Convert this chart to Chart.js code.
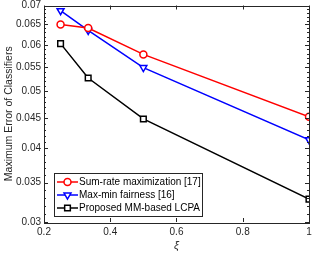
<!DOCTYPE html>
<html>
<head>
<meta charset="utf-8">
<script src="https://cdn.jsdelivr.net/npm/chart.js@4"></script>
<style>
  html, body { margin: 0; padding: 0; background: #fff; }
  #wrap { width: 316px; height: 253px; }
</style>
</head>
<body>
<div id="wrap"><canvas id="chart" width="316" height="253"></canvas></div>
<script>
// data
const xi = [0.25, 1 / 3, 0.5, 1];
const sumRate = [0.0650, 0.0641, 0.0578, 0.0453];
const maxMin = [0.0686, 0.0635, 0.0549, 0.0414];
const proposed = [0.0603, 0.0527, 0.0449, 0.0328];
const xTicks = [0.2, 0.4, 0.6, 0.8, 1];
const yTicks = [0.03, 0.035, 0.04, 0.045, 0.05, 0.055, 0.06, 0.065, 0.07];

const FONT = 'Liberation Sans, Arial, sans-serif';
Chart.defaults.font.family = FONT;
Chart.defaults.font.size = 10;
Chart.defaults.color = '#262626';

const toPts = ys => ys.map((y, i) => ({ x: xi[i], y: y }));

// MATLAB style box, inward ticks and legend
const matlabAxes = {
    id: 'matlabAxes',
    afterDraw(chart) {
        const ctx = chart.ctx;
        const a = chart.chartArea;
        const xs = chart.scales.x, ys = chart.scales.y;
        ctx.save();
        ctx.strokeStyle = '#262626';
        ctx.lineWidth = 1;
        ctx.beginPath();
        xTicks.forEach(v => {
            const px = Math.round(xs.getPixelForValue(v)) + 0.5;
            ctx.moveTo(px, a.bottom); ctx.lineTo(px, a.bottom - 4);
            ctx.moveTo(px, a.top); ctx.lineTo(px, a.top + 4);
        });
        for (let k = 30; k <= 70; k++) {
            const v = k / 1000;
            const major = k % 5 === 0;
            const len = major ? 4 : 2;
            const py = Math.round(ys.getPixelForValue(v)) + 0.5;
            ctx.moveTo(a.left, py); ctx.lineTo(a.left + len, py);
            ctx.moveTo(a.right, py); ctx.lineTo(a.right - len, py);
        }
        ctx.stroke();
        ctx.strokeRect(Math.round(a.left) + 0.5, Math.round(a.top) + 0.5,
            Math.round(a.right - a.left), Math.round(a.bottom - a.top));

        // legend box
        const lx = 54, ly = 173, lw = 148, lh = 43;
        ctx.fillStyle = '#fff';
        ctx.fillRect(lx, ly, lw, lh);
        ctx.strokeStyle = '#262626';
        ctx.strokeRect(lx + 0.5, ly + 0.5, lw, lh);
        ctx.font = '10px ' + FONT;
        ctx.textBaseline = 'middle';
        chart.data.datasets.forEach((ds, i) => {
            const cy = ly + 9 + i * 13;
            ctx.strokeStyle = ds.borderColor;
            ctx.lineWidth = 1.5;
            ctx.beginPath();
            ctx.moveTo(lx + 3, cy); ctx.lineTo(lx + 24, cy);
            ctx.stroke();
            ctx.fillStyle = '#fff';
            Chart.helpers.drawPoint(ctx, {
                pointStyle: ds.pointStyle,
                radius: ds.pointRadius,
                rotation: ds.pointRotation || 0,
                borderWidth: 1.5
            }, lx + 13.5, cy);
            ctx.fillStyle = '#000';
            ctx.fillText(ds.label, lx + 25, cy + 0.5);
        });
        ctx.restore();
    }
};

new Chart(document.getElementById('chart'), {
    type: 'line',
    data: {
        datasets: [
            {
                label: 'Sum-rate maximization [17]',
                data: toPts(sumRate),
                borderColor: '#ff0000',
                pointBackgroundColor: '#fff',
                pointStyle: 'circle',
                pointRadius: 3.5,
                borderWidth: 1.5
            },
            {
                label: 'Max-min fairness [16]',
                data: toPts(maxMin),
                borderColor: '#0000ff',
                pointBackgroundColor: '#fff',
                pointStyle: 'triangle',
                pointRotation: 180,
                pointRadius: 4,
                borderWidth: 1.5
            },
            {
                label: 'Proposed MM-based LCPA',
                data: toPts(proposed),
                borderColor: '#000000',
                pointBackgroundColor: '#fff',
                pointStyle: 'rect',
                pointRadius: 4,
                borderWidth: 1.5
            }
        ]
    },
    options: {
        responsive: false,
        animation: false,
        layout: { padding: { top: 5, right: 7, left: 3, bottom: 0 } },
        elements: { line: { tension: 0 }, point: { borderWidth: 1.5 } },
        plugins: {
            legend: { display: false },
            tooltip: { enabled: false }
        },
        scales: {
            x: {
                type: 'linear',
                min: 0.2,
                max: 1,
                afterBuildTicks: s => { s.ticks = xTicks.map(v => ({ value: v })); },
                afterFit: s => { s.height = 31; s.paddingLeft = 0; s.paddingRight = 0; },
                ticks: {
                    padding: 4,
                    maxRotation: 0,
                    callback: v => String(v)
                },
                grid: { display: false, drawTicks: false },
                border: { display: false },
                title: {
                    display: true,
                    text: 'ξ',
                    font: { size: 11, style: 'italic' },
                    padding: { top: 0, bottom: 0 }
                }
            },
            y: {
                type: 'logarithmic',
                min: 0.03,
                max: 0.07,
                afterBuildTicks: s => { s.ticks = yTicks.map(v => ({ value: v })); },
                afterFit: s => { s.width = 41; s.paddingTop = 0; s.paddingBottom = 0; },
                ticks: {
                    padding: 3,
                    callback: v => String(+v.toFixed(3))
                },
                grid: { display: false, drawTicks: false },
                border: { display: false },
                title: {
                    display: true,
                    text: 'Maximum Error of Classifiers',
                    font: { size: 10.5 },
                    padding: { top: 0, bottom: 0 }
                }
            }
        }
    },
    plugins: [matlabAxes]
});
</script>
</body>
</html>
